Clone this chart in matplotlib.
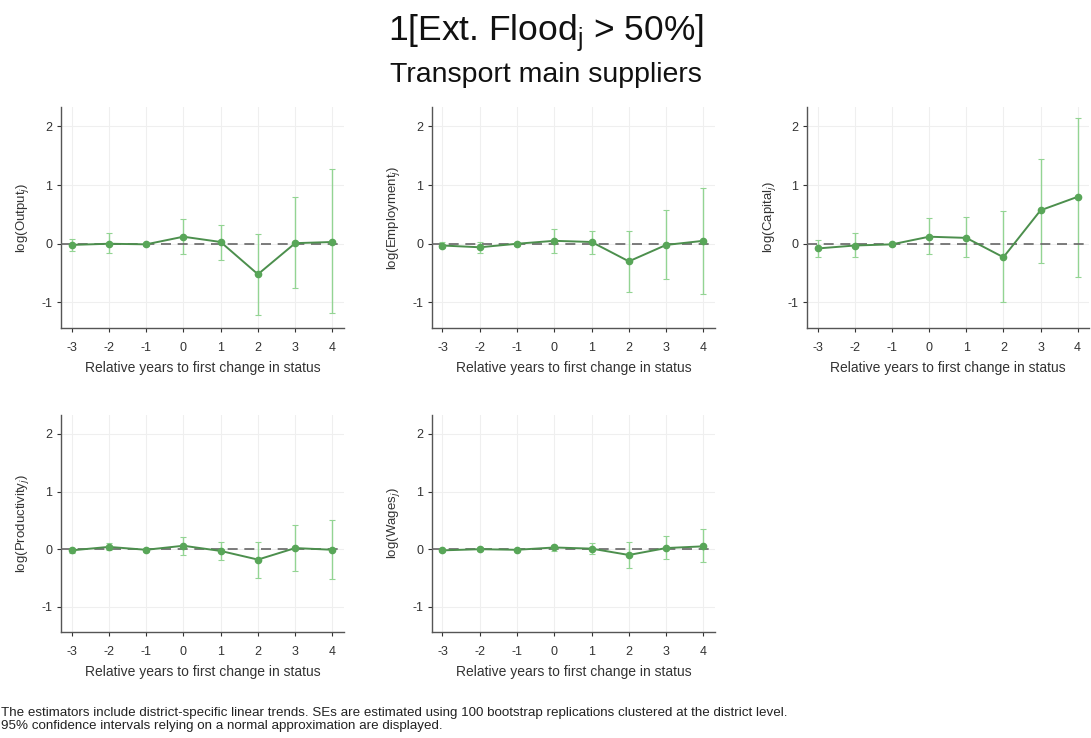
import numpy as np
from matplotlib import pyplot as plt

plt.rcParams['font.family'] = ['Liberation Sans', 'DejaVu Sans']
plt.rcParams['axes.unicode_minus'] = False

# event time relative to first change in status
years = [-3, -2, -1, 0, 1, 2, 3, 4]

# point estimates and 95% CI bounds for each outcome
output_est = [-0.02, 0.00, -0.01, 0.12, 0.03, -0.52, 0.01, 0.03]
output_lo = [-0.12, -0.15, -0.04, -0.17, -0.27, -1.22, -0.76, -1.18]
output_hi = [0.08, 0.18, 0.02, 0.42, 0.32, 0.17, 0.80, 1.27]

employ_est = [-0.03, -0.06, 0.00, 0.05, 0.03, -0.30, -0.02, 0.05]
employ_lo = [-0.08, -0.15, -0.03, -0.15, -0.17, -0.82, -0.60, -0.85]
employ_hi = [0.03, 0.03, 0.03, 0.25, 0.22, 0.22, 0.58, 0.95]

capital_est = [-0.08, -0.03, -0.01, 0.12, 0.10, -0.23, 0.57, 0.80]
capital_lo = [-0.22, -0.22, -0.04, -0.18, -0.23, -1.00, -0.32, -0.57]
capital_hi = [0.07, 0.18, 0.02, 0.44, 0.45, 0.55, 1.45, 2.15]

prod_est = [-0.02, 0.04, -0.01, 0.06, -0.03, -0.18, 0.02, -0.01]
prod_lo = [-0.06, -0.02, -0.04, -0.10, -0.18, -0.50, -0.38, -0.52]
prod_hi = [0.02, 0.10, 0.02, 0.22, 0.13, 0.13, 0.42, 0.50]

wages_est = [-0.02, 0.00, -0.01, 0.03, 0.01, -0.10, 0.02, 0.05]
wages_lo = [-0.05, -0.03, -0.03, -0.03, -0.08, -0.32, -0.17, -0.23]
wages_hi = [0.01, 0.03, 0.01, 0.08, 0.10, 0.13, 0.23, 0.35]

ylabels = ['log(Output$_j$)', 'log(Employment$_j$)', 'log(Capital$_j$)',
           'log(Productivity$_j$)', 'log(Wages$_j$)']

panels = [(output_est, output_lo, output_hi),
          (employ_est, employ_lo, employ_hi),
          (capital_est, capital_lo, capital_hi),
          (prod_est, prod_lo, prod_hi),
          (wages_est, wages_lo, wages_hi)]

# axes boxes in figure fractions [left, bottom, width, height]
boxes = [[0.056, 0.556, 0.259, 0.299],
         [0.396, 0.556, 0.259, 0.299],
         [0.740, 0.556, 0.258, 0.299],
         [0.056, 0.144, 0.259, 0.294],
         [0.396, 0.144, 0.259, 0.294]]

line_col = '#4c8f4d'
mark_col = '#58a658'
ci_col = '#93d493'

fig = plt.figure(figsize=(10.91, 7.38), dpi=100)

for k in range(5):
    est, lo, hi = panels[k]
    est = np.array(est)
    ax = fig.add_axes(boxes[k])
    yerr = [est - np.array(lo), np.array(hi) - est]
    ax.errorbar(years, est, yerr=yerr, fmt='none', ecolor=ci_col,
                elinewidth=1.0, capsize=2.5, capthick=0.8, zorder=2)
    ax.axhline(0, color='#666666', linestyle=(0, (6, 4)), linewidth=1.2, zorder=3)
    ax.plot(years, est, color=line_col, linewidth=1.4, marker='o',
            markersize=4.5, markerfacecolor=mark_col, markeredgecolor=mark_col,
            zorder=4)
    ax.set_xlim(-3.28, 4.3)
    ax.set_ylim(-1.43, 2.33)
    ax.set_xticks(years)
    ax.set_yticks([-1, 0, 1, 2])
    ax.grid(True, color='#efefef', linewidth=0.8)
    ax.set_axisbelow(True)
    for s in ['top', 'right']:
        ax.spines[s].set_visible(False)
    for s in ['left', 'bottom']:
        ax.spines[s].set_color('#555555')
        ax.spines[s].set_linewidth(1.0)
    ax.tick_params(colors='#333333', labelsize=9, length=3, width=0.8)
    ax.tick_params(axis='x', pad=7)
    ax.set_xlabel('Relative years to first change in status', fontsize=10,
                  color='#333333', labelpad=5)
    ax.set_ylabel(ylabels[k], fontsize=9.5, color='#333333', labelpad=7)

fig.text(0.5, 0.955, r'1[Ext. Flood$_\mathregular{j}$ > 50%]', ha='center',
         va='center', fontsize=25.5, color='#111111')
fig.text(0.5, 0.898, 'Transport main suppliers', ha='center', va='center',
         fontsize=20.5, color='#111111')

fig.text(0.001, 0.025, 'The estimators include district-specific linear trends. '
         'SEs are estimated using 100 bootstrap replications clustered at the district level.\n'
         '95% confidence intervals relying on a normal approximation are displayed.',
         ha='left', va='center', fontsize=9.6, color='#222222', linespacing=1.05)

fig.savefig('out.png', dpi=100, facecolor='white')
